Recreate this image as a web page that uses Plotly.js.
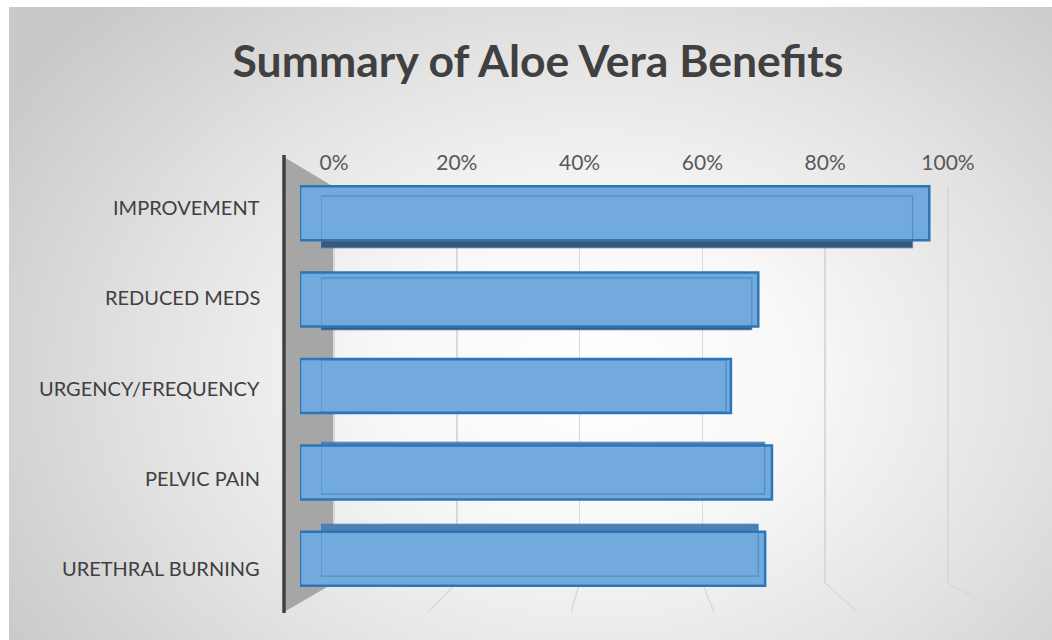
<!DOCTYPE html>
<html>
<head>
<meta charset="utf-8">
<script src="https://cdn.plot.ly/plotly-3.0.1.min.js"></script>
<style>
  html, body { margin: 0; padding: 0; background: #ffffff; width: 1052px; height: 640px; overflow: hidden; }
  #bg { position: absolute; left: 9px; top: 7px; width: 1043px; height: 633px;
        background: radial-gradient(ellipse 66% 82% at 56% 58%, #ffffff 0%, #f8f8f8 30%, #e2e2e2 65%, #c9c9c9 100%); }
  #chart { position: absolute; left: 0; top: 0; width: 1052px; height: 640px; }
</style>
</head>
<body>
<div id="bg"></div>
<div id="chart"></div>
<script>
// ---- data ----
const categories = ['IMPROVEMENT', 'REDUCED MEDS', 'URGENCY/FREQUENCY', 'PELVIC PAIN', 'URETHRAL BURNING'];
const values = [0.92, 0.67, 0.63, 0.69, 0.68];
const tickVals = [0, 0.2, 0.4, 0.6, 0.8, 1.0];
const tickText = ['0%', '20%', '40%', '60%', '80%', '100%'];
const chartTitle = 'Summary of Aloe Vera Benefits';

// ---- geometry helpers (pixel -> paper) ----
const W = 1052, H = 640;
const px = v => v / W;
const py = v => 1 - v / H;

// perspective shift of the bar back faces (toward the middle category)
const mid = (categories.length - 1) / 2;
const backWidth = 0.6;
const backOffset = categories.map((c, i) => -backWidth / 2 + 0.05 * (mid - i));
const backColors = categories.map((c, i) => i < mid ? '#3b5878' : (i > mid ? '#4e80b3' : 'rgba(0,0,0,0)'));

const font = 'Lato, "Open Sans", sans-serif';

const traces = [
  { // helper so the back-wall grid subplot is drawn
    type: 'scatter', mode: 'none', x: [], y: [], xaxis: 'x', yaxis: 'y',
    hoverinfo: 'skip', showlegend: false
  },
  { // back faces (depth shading)
    type: 'bar', orientation: 'h', y: categories, x: values,
    xaxis: 'x2', yaxis: 'y2', width: backWidth, offset: backOffset,
    marker: { color: backColors, line: { width: 0 } },
    hoverinfo: 'skip', showlegend: false
  },
  { // front faces
    type: 'bar', orientation: 'h', y: categories, x: values,
    xaxis: 'x3', yaxis: 'y2', width: 0.625,
    marker: { color: 'rgb(114,170,222)', line: { color: '#2e75b6', width: 2.5 } },
    hoverinfo: 'skip', showlegend: false
  },
  { // back face outlines seen through the front
    type: 'bar', orientation: 'h', y: categories, x: values,
    xaxis: 'x4', yaxis: 'y2', width: backWidth, offset: backOffset,
    marker: { color: 'rgba(0,0,0,0)', line: { color: 'rgba(46,117,182,0.5)', width: 1.3 } },
    hoverinfo: 'skip', showlegend: false
  }
];

// decorative floor perspective lines and side wall
const backX0 = 334, backX1 = 948, frontX0 = 285, frontX1 = 1000;
const floorBackY = 583, floorFrontY = 612;
const shapes = [
  { type: 'path', xref: 'paper', yref: 'paper', layer: 'below',
    path: `M${px(284)},${py(157)} L${px(334)},${py(187)} L${px(334)},${py(floorBackY)} L${px(284)},${py(612)} Z`,
    fillcolor: '#a6a6a6', line: { width: 0 } },
  { type: 'line', xref: 'paper', yref: 'paper', layer: 'above',
    x0: px(284), x1: px(284), y0: py(155), y1: py(613),
    line: { color: '#404040', width: 3.5 } }
];
tickVals.forEach(v => {
  if (v === 0) return;
  shapes.push({ type: 'line', xref: 'paper', yref: 'paper', layer: 'below',
    x0: px(backX0 + (backX1 - backX0) * v), y0: py(floorBackY),
    x1: px(frontX0 + (frontX1 - frontX0) * v), y1: py(floorFrontY),
    line: { color: '#d9d9d9', width: 1.5 } });
});

// category labels on the side wall (front edge spacing)
const annotations = categories.map((c, i) => ({
  text: c, xref: 'paper', yref: 'paper', x: px(262), y: py(207 + 90.25 * i),
  xanchor: 'right', yanchor: 'middle', showarrow: false,
  font: { family: font, size: 20, color: '#404040' }
}));

const hidden = { visible: false, range: [0, 1], fixedrange: true };
const pad = 0.004; // keeps the 100% grid line inside the range

const layout = {
  width: W, height: H,
  margin: { l: 0, r: 0, t: 0, b: 0, pad: 0 },
  paper_bgcolor: 'rgba(0,0,0,0)', plot_bgcolor: 'rgba(0,0,0,0)',
  title: { text: chartTitle, x: 538 / W, xanchor: 'center', y: py(61), yref: 'container', yanchor: 'middle',
           font: { family: font, size: 44.5, weight: 'bold', color: '#404040' } },
  xaxis: { domain: [px(backX0 - (backX1 - backX0) * pad), px(backX1 + (backX1 - backX0) * pad)],
           range: [-pad, 1 + pad], anchor: 'y', side: 'top',
           tickvals: tickVals, ticktext: tickText, ticks: '', ticklabelstandoff: 12,
           showgrid: true, gridcolor: '#d9d9d9', gridwidth: 1.5, zeroline: false, showline: false,
           tickfont: { family: font, size: 21, color: '#595959' }, automargin: false, fixedrange: true },
  yaxis: { domain: [py(floorBackY), py(187)], range: [0, 1], anchor: 'x',
           showgrid: false, zeroline: false, showline: false, showticklabels: false, ticks: '', fixedrange: true },
  yaxis2: { domain: [py(602), py(170)], type: 'category', categoryarray: categories, categoryorder: 'array',
            autorange: 'reversed', anchor: 'x3', showgrid: false, zeroline: false, showline: false, ticks: '',
            showticklabels: false, automargin: false, fixedrange: true },
  xaxis2: Object.assign({ domain: [px(321), px(964)], anchor: 'y2' }, hidden),
  xaxis3: Object.assign({ domain: [px(300), px(984)], anchor: 'y2' }, hidden),
  xaxis4: Object.assign({ domain: [px(321), px(964)], anchor: 'y2' }, hidden),
  barmode: 'overlay',
  shapes: shapes,
  annotations: annotations,
  showlegend: false
};

Plotly.newPlot('chart', traces, layout, { displayModeBar: false, staticPlot: true });
</script>
</body>
</html>
